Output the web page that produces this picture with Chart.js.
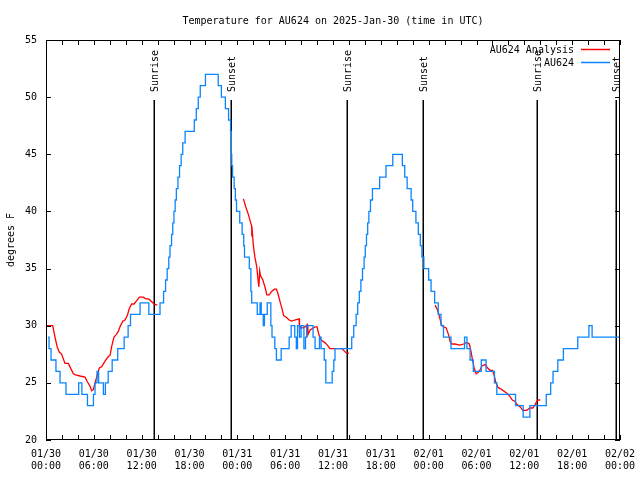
<!DOCTYPE html>
<html><head><meta charset="utf-8">
<script src="https://cdn.jsdelivr.net/npm/chart.js@4"></script>
<style>html,body{margin:0;padding:0;background:#fff}</style>
</head><body>
<canvas id="c" width="640" height="480"></canvas>
<script>
const titleText = 'Temperature for AU624 on 2025-Jan-30 (time in UTC)';
const yTitle = 'degrees F';
const xTickDates = ['01/30','01/30','01/30','01/30','01/31','01/31','01/31','01/31','02/01','02/01','02/01','02/01','02/02'];
const xTickTimes = ['00:00','06:00','12:00','18:00','00:00','06:00','12:00','18:00','00:00','06:00','12:00','18:00','00:00'];

// hours since 2025-01-30 00:00 UTC
const obsHours = [0.25,0.38,0.63,1.25,1.76,2.51,4.1,4.5,5.2,5.95,6.15,6.4,6.6,7.2,7.45,7.8,8.3,9.0,9.8,10.3,10.6,11.8,12.9,14.3,14.75,15.0,15.2,15.4,15.55,15.75,15.9,16.05,16.2,16.35,16.55,16.75,16.95,17.15,17.45,18.6,18.85,19.1,19.35,20.0,21.6,22.0,22.5,22.9,23.15,23.25,23.3,23.4,23.6,23.75,23.9,24.3,24.6,24.8,24.9,25.5,25.7,25.8,26.5,26.85,27.0,27.25,27.4,27.75,28.2,28.35,28.7,28.9,29.5,30.5,30.75,31.2,31.4,31.55,31.8,32.0,32.35,32.55,32.7,33.5,33.75,34.3,34.5,34.9,35.1,35.9,36.1,36.25,38.35,38.6,38.9,39.1,39.3,39.5,39.7,39.9,40.05,40.2,40.35,40.5,40.7,40.95,41.85,42.65,43.5,44.7,45.0,45.3,45.8,46.0,46.4,46.7,46.95,47.15,47.4,48.0,48.3,48.75,49.2,49.55,49.86,50.8,52.5,52.8,53.2,53.6,54.6,55.2,56.25,56.55,58.9,59.85,60.7,62.75,63.3,63.6,64.2,64.9,66.7,68.1,68.5,72.0];
const obsTemps = [29,28,27,26,25,24,25,24,23,24,25,26,25,24,25,26,27,28,29,30,31,32,31,32,33,34,35,36,37,38,39,40,41,42,43,44,45,46,47,48,49,50,51,52,51,50,49,48,47,45,44,43,42,41,40,39,38,37,36,35,33,32,31,32,31,30,31,32,30,29,28,27,28,29,30,29,28,30,29,30,28,29,30,29,28,29,28,27,25,26,27,28,29,30,31,32,33,34,35,36,37,38,39,40,41,42,43,44,45,44,43,42,41,40,39,38,37,36,35,34,33,32,31,30,29,28,29,28,27,26,27,26,25,24,23,22,23,24,25,26,27,28,29,30,29,29];

const anaHours = [0,0.84,1.13,1.42,1.67,1.97,2.38,2.8,3.01,3.43,3.72,4.27,4.89,5.19,5.52,5.73,5.94,6.15,6.44,6.69,6.98,7.4,7.82,8.03,8.24,8.53,8.78,9.07,9.28,9.62,9.91,10.2,10.45,10.75,11.04,11.38,11.71,12.2,12.43,12.97,13.26,13.55,13.97,
  14.5,
  24.76,25.1,25.4,25.6,25.8,25.82,25.84,26.0,26.2,26.43,26.6,26.7,26.8,26.9,27.2,27.5,27.7,28.0,28.3,28.65,28.9,29.1,29.4,29.6,29.8,30.2,30.5,30.8,31.2,31.75,31.8,31.9,32.1,32.5,32.75,32.85,33.1,33.5,33.75,34.0,34.2,34.4,34.6,35.0,35.3,35.6,37.1,37.4,37.7,38.0,
  42.0,
  48.8,49.1,49.35,49.6,49.86,50.2,50.5,50.7,50.9,51.3,51.9,52.4,52.6,52.9,53.1,53.3,53.5,53.7,53.95,54.2,54.5,54.7,55.1,55.4,55.7,56.0,56.2,56.4,56.7,56.96,57.4,57.8,58.2,58.5,58.8,59.1,59.5,59.8,60.0,60.3,60.7,61.06,61.35,61.57,61.78,62.0];
const anaTemps = [30,30,29,28.1,27.7,27.5,26.7,26.7,26.4,25.8,25.7,25.6,25.5,25.1,24.7,24.3,24.4,25,25.7,26.3,26.4,26.9,27.3,27.4,28.2,29,29.2,29.5,29.9,30.4,30.5,30.9,31.5,31.9,31.9,32.2,32.5,32.5,32.4,32.3,32.1,31.9,31.8,
  null,
  41.1,40.3,39.7,39.2,38.7,37.8,38.6,37.1,36.0,35.2,34.0,33.4,34.8,34.4,34.0,33.3,32.7,32.7,33.0,33.2,33.2,32.8,32.0,31.5,30.9,30.7,30.5,30.4,30.5,30.6,29.7,29.9,29.8,29.9,30.1,29.2,29.6,29.8,29.9,29.9,29.3,28.9,28.7,28.5,28.3,28.0,28.0,27.8,27.6,27.6,
  null,
  31.8,31.4,30.8,30.1,29.9,29.8,29.2,28.6,28.4,28.4,28.3,28.4,28.5,28.5,28.4,27.8,27.0,26.3,25.8,25.9,26.2,26.5,26.6,26.3,26.1,26.1,25.7,25.1,24.6,24.5,24.3,24.1,23.8,23.5,23.4,23.1,22.9,22.6,22.6,22.6,22.8,22.8,23.1,23.4,23.5,23.5];

const sunLabels = ['Sunrise','Sunset','Sunrise','Sunset','Sunrise','Sunset'];
const sunHours = [13.59, 23.25, 37.73, 47.35, 61.65, 71.48];

const seriesNames = ['AU624 Analysis', 'AU624'];
const seriesColors = ['#ff0000', '#0a85ff'];

const FAMILY = '"DejaVu Sans Mono", "Liberation Mono", monospace';
const FONT = '10px ' + FAMILY;

const decor = {
  id: 'decor',
  beforeDatasetsDraw(chart) {
    const {ctx, chartArea: a, scales: {x, y}} = chart;
    const topPx = a.bottom - 0.85 * (a.bottom - a.top);
    ctx.save();
    ctx.strokeStyle = '#000';
    ctx.lineWidth = 1.5;
    ctx.font = FONT;
    ctx.fillStyle = '#000';
    sunHours.forEach((h, i) => {
      const px = Math.round(x.getPixelForValue(h)) + 0.25;
      ctx.beginPath();
      ctx.moveTo(px, topPx);
      ctx.lineTo(px, a.bottom);
      ctx.stroke();
      ctx.save();
      ctx.translate(px + 1.5, topPx - 8);
      ctx.rotate(-Math.PI / 2);
      ctx.textAlign = 'left';
      ctx.textBaseline = 'middle';
      ctx.fillText(sunLabels[i], 0, 0);
      ctx.restore();
    });
    ctx.restore();
  },
  afterDraw(chart) {
    const {ctx, chartArea: a, scales: {x, y}} = chart;
    ctx.save();
    ctx.strokeStyle = '#000';
    ctx.lineWidth = 1;
    ctx.strokeRect(a.left + 0.5, a.top + 0.5, a.right - a.left - 1, a.bottom - a.top - 1);
    ctx.beginPath();
    x.ticks.forEach(t => {
      const px = Math.round(x.getPixelForValue(t.value)) + 0.5;
      ctx.moveTo(px, a.bottom); ctx.lineTo(px, a.bottom - 5);
      ctx.moveTo(px, a.top); ctx.lineTo(px, a.top + 5);
    });
    y.ticks.forEach(t => {
      const py = Math.round(y.getPixelForValue(t.value)) + 0.5;
      ctx.moveTo(a.left, py); ctx.lineTo(a.left + 5, py);
      ctx.moveTo(a.right, py); ctx.lineTo(a.right - 5, py);
    });
    ctx.stroke();
    // legend
    ctx.font = FONT;
    ctx.fillStyle = '#000';
    ctx.textAlign = 'right';
    ctx.textBaseline = 'middle';
    const lx = a.right - 46;
    seriesNames.forEach((n, i) => {
      const ly = a.top + 10 + i * 13;
      ctx.fillText(n, lx, ly);
      ctx.strokeStyle = seriesColors[i];
      ctx.lineWidth = 1.5;
      ctx.beginPath();
      ctx.moveTo(lx + 7, ly - 0.5);
      ctx.lineTo(lx + 36, ly - 0.5);
      ctx.stroke();
    });
    ctx.restore();
  }
};

new Chart(document.getElementById('c'), {
  type: 'line',
  data: {
    datasets: [
      {
        label: seriesNames[1],
        data: obsHours.map((h, i) => ({x: h, y: obsTemps[i]})),
        borderColor: seriesColors[1],
        borderWidth: 1.3,
        pointRadius: 0,
        stepped: true,
        fill: false,
        order: 0
      },
      {
        label: seriesNames[0],
        data: anaHours.map((h, i) => ({x: h, y: anaTemps[i]})),
        borderColor: seriesColors[0],
        borderWidth: 1.3,
        pointRadius: 0,
        tension: 0,
        spanGaps: false,
        fill: false,
        order: 1
      }
    ]
  },
  options: {
    responsive: false,
    animation: false,
    devicePixelRatio: 1,
    events: [],
    layout: {padding: {left: 0, right: 20, top: 0, bottom: 0}},
    plugins: {
      legend: {display: false},
      tooltip: {enabled: false},
      title: {
        display: true,
        text: titleText,
        fullSize: false,
        color: '#000',
        font: {family: FAMILY, size: 10, weight: 'normal'},
        padding: {top: 15, bottom: 13}
      }
    },
    scales: {
      x: {
        type: 'linear',
        min: 0,
        max: 72,
        afterFit(s) { s.height = 40; s.paddingLeft = 0; s.paddingRight = 0; },
        grid: {display: false, drawTicks: false},
        border: {display: false},
        ticks: {
          stepSize: 2,
          autoSkip: false,
          maxRotation: 0,
          minRotation: 0,
          padding: 9,
          color: '#000',
          font: {family: FAMILY, size: 10, lineHeight: 1.15},
          callback: (v) => (v % 6 === 0) ? [xTickDates[v / 6], xTickTimes[v / 6]] : ''
        }
      },
      y: {
        min: 20,
        max: 55,
        afterFit(s) { s.width = 46; s.paddingTop = 0; s.paddingBottom = 0; },
        grid: {display: false, drawTicks: false},
        border: {display: false},
        ticks: {
          stepSize: 5,
          padding: 9,
          color: '#000',
          font: {family: FAMILY, size: 10}
        },
        title: {
          display: true,
          text: yTitle,
          color: '#000',
          font: {family: FAMILY, size: 10},
          padding: {top: 5, bottom: 0}
        }
      }
    }
  },
  plugins: [decor]
});
</script>
</body></html>
